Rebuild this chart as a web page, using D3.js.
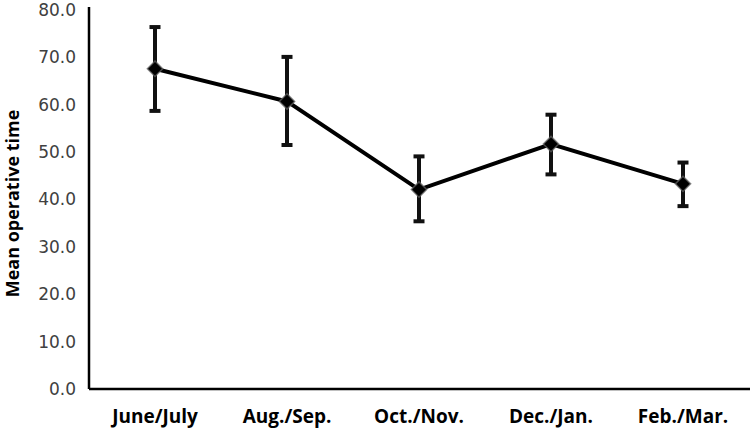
<!DOCTYPE html>
<html>
<head>
<meta charset="utf-8">
<script src="https://cdn.jsdelivr.net/npm/d3@7"></script>
<style>
  body { margin: 0; background: #fff; }
  svg { display: block; }
</style>
</head>
<body>
<svg id="chart" width="752" height="430"></svg>
<script>
// --- Données ---
const periods = ["June/July", "Aug./Sep.", "Oct./Nov.", "Dec./Jan.", "Feb./Mar."];
const meanTime = [67.6, 60.7, 42.1, 51.7, 43.3];
const errLow = [58.7, 51.5, 35.4, 45.3, 38.6];
const errHigh = [76.4, 70.1, 49.1, 57.9, 47.8];
const yTicks = [0, 10, 20, 30, 40, 50, 60, 70, 80];

const svg = d3.select("#chart");
const margin = { left: 89, right: 3, top: 10, bottom: 41 };
const width = 752, height = 430;

const x = d3.scaleBand()
    .domain(periods)
    .range([margin.left, width - margin.right]);
const y = d3.scaleLinear()
    .domain([0, 80])
    .range([height - margin.bottom, margin.top]);

const data = periods.map((p, i) => ({ p, v: meanTime[i], lo: errLow[i], hi: errHigh[i] }));
const cx = d => x(d.p) + x.bandwidth() / 2;

// axe Y
const yAxis = svg.append("g")
    .attr("transform", `translate(${margin.left},0)`)
    .call(d3.axisLeft(y).tickValues(yTicks).tickSize(0).tickPadding(13).tickFormat(d3.format(".1f")));
yAxis.select(".domain").attr("stroke", "#000").attr("stroke-width", 2.5).attr("d", `M0,${y(0)}V${margin.top - 3}`);
yAxis.selectAll("text")
    .attr("fill", "#404040")
    .style("font-family", "'DejaVu Sans', sans-serif")
    .style("font-size", "17px");

// axe X
const xAxis = svg.append("g")
    .attr("transform", `translate(0,${y(0)})`)
    .call(d3.axisBottom(x).tickSize(0));
xAxis.select(".domain").attr("stroke", "#000").attr("stroke-width", 2.5)
    .attr("d", `M${margin.left},0H${width - 2}`);
xAxis.selectAll("text")
    .attr("y", 34)
    .attr("dy", 0)
    .attr("fill", "#000")
    .style("font-family", "'Open Sans', sans-serif")
    .style("font-weight", "bold")
    .style("font-size", "19px");

// titre axe Y
svg.append("text")
    .attr("transform", `translate(19,${(y(0) + y(80)) / 2 + 4}) rotate(-90)`)
    .attr("text-anchor", "middle")
    .style("font-family", "'Open Sans', sans-serif")
    .style("font-weight", "bold")
    .style("font-size", "18px")
    .text("Mean operative time");

// barres d'erreur
const eb = svg.append("g").attr("stroke", "#111").attr("stroke-width", 4);
eb.selectAll("line.v").data(data).join("line").attr("class", "v")
    .attr("x1", cx).attr("x2", cx)
    .attr("y1", d => y(d.lo)).attr("y2", d => y(d.hi));
eb.selectAll("line.top").data(data).join("line").attr("class", "top")
    .attr("x1", d => cx(d) - 5.5).attr("x2", d => cx(d) + 5.5)
    .attr("y1", d => y(d.hi)).attr("y2", d => y(d.hi));
eb.selectAll("line.bot").data(data).join("line").attr("class", "bot")
    .attr("x1", d => cx(d) - 5.5).attr("x2", d => cx(d) + 5.5)
    .attr("y1", d => y(d.lo)).attr("y2", d => y(d.lo));

// ligne
svg.append("path")
    .datum(data)
    .attr("fill", "none")
    .attr("stroke", "#000")
    .attr("stroke-width", 4)
    .attr("d", d3.line().x(cx).y(d => y(d.v)));

// marqueurs losange
svg.append("g").selectAll("path").data(data).join("path")
    .attr("transform", d => `translate(${cx(d)},${y(d.v)})`)
    .attr("d", d3.symbol().type(d3.symbolDiamond2).size(150))
    .attr("fill", "#000")
    .attr("stroke", "#666")
    .attr("stroke-opacity", 0.7)
    .attr("stroke-width", 1.5);
</script>
</body>
</html>
